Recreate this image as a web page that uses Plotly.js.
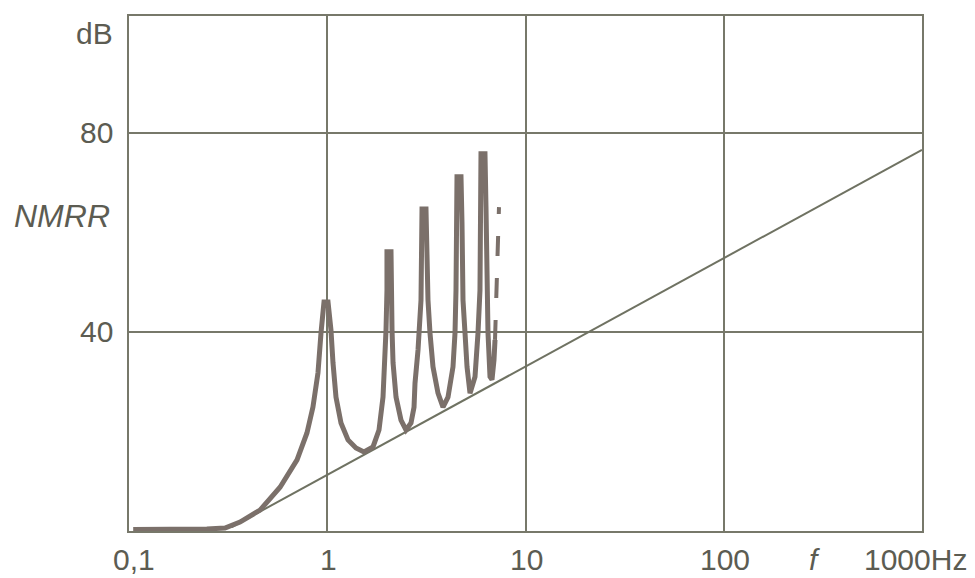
<!DOCTYPE html>
<html>
<head>
<meta charset="utf-8">
<script src="https://cdn.plot.ly/plotly-3.0.1.min.js"></script>
<style>html,body{margin:0;padding:0;background:#ffffff;}#chart{width:975px;height:578px;}</style>
</head>
<body>
<div id="chart"></div>
<script>
// NMRR curve (solid part): frequency in Hz, value in dB
const curveF = [0.105, 0.161, 0.247, 0.305, 0.363, 0.458, 0.578, 0.704, 0.790, 0.847, 0.898, 0.930, 0.952,
  0.963, 1.009,
  1.044, 1.069, 1.107, 1.173, 1.273, 1.396, 1.532, 1.701, 1.824, 1.911, 1.956, 1.979, 2.001,
  2.001, 2.097,
  2.097, 2.122, 2.147, 2.223, 2.355, 2.496, 2.645, 2.74, 2.771, 2.870, 2.971,
  3.006, 3.148,
  3.185, 3.222, 3.298, 3.415, 3.619, 3.836, 4.065, 4.308, 4.41, 4.461,
  4.513, 4.728,
  4.783, 4.839, 4.953, 5.07, 5.25, 5.563, 5.76, 5.894,
  5.963, 6.246,
  6.32, 6.395, 6.469, 6.622, 6.776, 6.937, 7.018];
const curveDb = [0.3, 0.3, 0.4, 0.6, 1.8, 4.2, 8.8, 14.3, 19.7, 24.9, 31.8, 39.8, 45.0,
  46.0, 46.0,
  40.4, 33.8, 26.9, 21.7, 18.3, 16.7, 15.9, 16.9, 20.3, 26.9, 33.8, 40.4, 48.4,
  56.1, 56.1,
  46.4, 40.4, 33.8, 26.9, 22.3, 20.3, 21.7, 24.9, 29.7, 36.4, 46.4,
  64.7, 64.7,
  54.5, 46.4, 39.8, 33.0, 27.7, 24.9, 26.9, 33.0, 39.8, 48.4,
  71.2, 71.2,
  61.9, 46.4, 39.8, 33.0, 27.7, 31.0, 39.8, 48.4,
  75.8, 75.8,
  65.1, 46.4, 39.8, 31.0, 30.4, 34.4, 38.4];
// dashed continuation
const dashF = [7.018, 7.182, 7.35];
const dashDb = [38.4, 51.9, 65.1];
// straight envelope line
const lineF = [0.33, 1000];
const lineDb = [0.8, 76.6];

// axis labels
const xTickVals = [0.1, 1, 10, 100];
const xTickText = ['0,1', '1', '10', '100'];
const yTickVals = [80, 40];
const yTickText = ['80', '40'];

const txtColor = '#5c5c52';
const gridColor = '#77786a';
const font = {family: 'Liberation Sans, Arial, sans-serif', size: 30, color: txtColor};

const annotations = [];
xTickVals.forEach((v, i) => {
  annotations.push({x: Math.log10(v), xref: 'x', y: 0, yref: 'paper', text: xTickText[i],
    showarrow: false, xanchor: 'center', yanchor: 'bottom', yshift: -47, xshift: (i === 0 ? 5 : 1), font: font});
});
annotations.push({x: 2.46, xref: 'x', y: 0, yref: 'paper', text: '<i>f</i>', showarrow: false,
  xanchor: 'center', yanchor: 'bottom', yshift: -47, font: font});
annotations.push({x: 2.697, xref: 'x', y: 0, yref: 'paper', text: '1000Hz', showarrow: false,
  xanchor: 'left', yanchor: 'bottom', yshift: -47, font: font});
yTickVals.forEach((v, i) => {
  annotations.push({x: 0, xref: 'paper', y: v, yref: 'y', text: yTickText[i], showarrow: false,
    xanchor: 'right', yanchor: 'middle', xshift: -14, font: font});
});
annotations.push({x: 0, xref: 'paper', y: 100, yref: 'y', text: 'dB', showarrow: false,
  xanchor: 'right', yanchor: 'middle', xshift: -14, font: font});
annotations.push({x: 0, xref: 'paper', y: 63.3, yref: 'y', text: '<i>NMRR</i>', showarrow: false,
  xanchor: 'right', yanchor: 'middle', xshift: -17, font: Object.assign({}, font, {size: 32})});

const traces = [
  {x: lineF, y: lineDb, type: 'scatter', mode: 'lines', line: {color: '#6f7262', width: 2}, hoverinfo: 'skip'},
  {x: curveF, y: curveDb, type: 'scatter', mode: 'lines', line: {color: '#7b706a', width: 5}, hoverinfo: 'skip'},
  {x: dashF, y: dashDb, type: 'scatter', mode: 'lines', line: {color: '#7b706a', width: 4, dash: '20px,22px'}, hoverinfo: 'skip'}
];

const layout = {
  width: 975, height: 578,
  margin: {l: 129, r: 53, t: 16, b: 47},
  paper_bgcolor: '#ffffff', plot_bgcolor: '#ffffff',
  showlegend: false,
  xaxis: {type: 'log', range: [-1, 3], tickvals: [1, 10, 100], showticklabels: false, ticks: '',
    showgrid: true, gridcolor: gridColor, gridwidth: 2, zeroline: false,
    showline: true, mirror: true, linecolor: gridColor, linewidth: 2},
  yaxis: {range: [0, 103.5], tickvals: [40, 80], showticklabels: false, ticks: '',
    showgrid: true, gridcolor: gridColor, gridwidth: 2, zeroline: false,
    showline: true, mirror: true, linecolor: gridColor, linewidth: 2},
  annotations: annotations
};

Plotly.newPlot('chart', traces, layout, {displayModeBar: false, staticPlot: true});
</script>
</body>
</html>
